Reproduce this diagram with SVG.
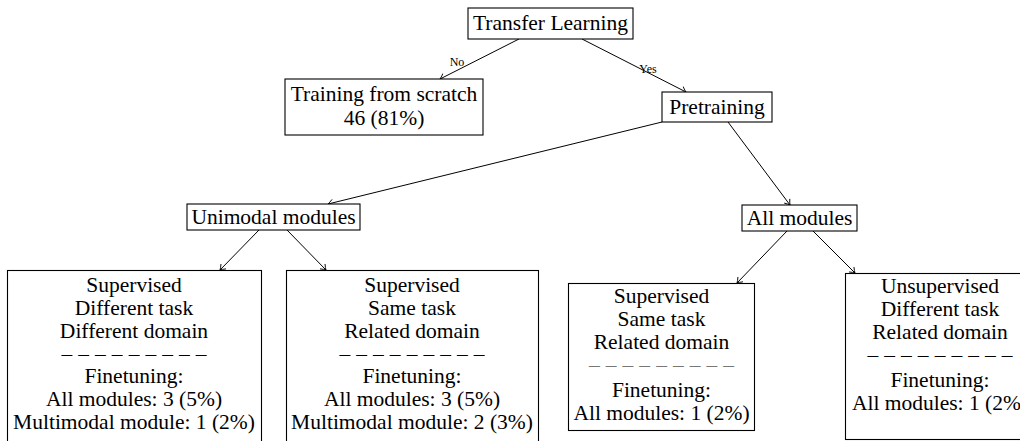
<svg xmlns="http://www.w3.org/2000/svg" width="1020" height="441" viewBox="0 0 1020 441">
  <style>
    .box { fill: #fff; stroke: #000; stroke-width: 1.1; }
    .t { font-family: "Liberation Serif", "Times New Roman", serif; font-size: 21.5px; fill: #000; text-anchor: middle; }
    .lbl { font-family: "Liberation Serif", "Times New Roman", serif; font-size: 12px; fill: #000; text-anchor: middle; }
    .edge { stroke: #000; stroke-width: 1; fill: none; marker-end: url(#tip); }
    .rule { fill: #000; }
  </style>
  <defs>
    <marker id="tip" viewBox="-6 -5 7 10" refX="0" refY="0" markerWidth="7" markerHeight="10" markerUnits="userSpaceOnUse" orient="auto">
      <path d="M -5 -3.5 Q -2 -1 0 0 Q -2 1 -5 3.5" fill="none" stroke="#000" stroke-width="0.9"/>
    </marker>
  </defs>
  <rect width="1020" height="441" fill="#fff"/>

  <g id="connectors">
    <line class="edge" x1="519" y1="39" x2="440" y2="79"/>
    <line class="edge" x1="582" y1="39" x2="686" y2="92"/>
    <line class="edge" x1="662" y1="122" x2="328" y2="204"/>
    <line class="edge" x1="728" y1="122" x2="790" y2="205"/>
    <line class="edge" x1="259" y1="230" x2="220" y2="270"/>
    <line class="edge" x1="287" y1="230" x2="326" y2="270"/>
    <line class="edge" x1="787" y1="231" x2="737" y2="283"/>
    <line class="edge" x1="813" y1="231" x2="855" y2="273"/>
    <text class="lbl" x="457" y="66">No</text>
    <text class="lbl" x="648" y="73">Yes</text>
  </g>

  <g id="transfer-learning">
    <rect class="box" x="468" y="8" width="165" height="31"/>
    <text class="t" x="550.5" y="30">Transfer Learning</text>
  </g>

  <g id="training-from-scratch">
    <rect class="box" x="285" y="79" width="198" height="56"/>
    <text class="t" x="384" y="101">Training from scratch</text>
    <text class="t" x="384" y="125">46 (81%)</text>
  </g>

  <g id="pretraining">
    <rect class="box" x="662" y="92" width="110" height="30"/>
    <text class="t" x="717" y="114">Pretraining</text>
  </g>

  <g id="unimodal-modules">
    <rect class="box" x="187" y="204" width="173" height="26"/>
    <text class="t" x="273.5" y="224">Unimodal modules</text>
  </g>

  <g id="all-modules">
    <rect class="box" x="742" y="205" width="115" height="26"/>
    <text class="t" x="799.5" y="225">All modules</text>
  </g>

  <g id="uni-supervised-different">
    <rect class="box" x="7.5" y="270.5" width="254" height="180"/>
    <text class="t" x="134" y="292">Supervised</text>
    <text class="t" x="134" y="315">Different task</text>
    <text class="t" x="134" y="338">Different domain</text>
    <text class="t" x="134" y="361" textLength="145" lengthAdjust="spacing">– – – – – – – – –</text>
    <text class="t" x="134" y="383">Finetuning:</text>
    <text class="t" x="134" y="406">All modules: 3 (5%)</text>
    <text class="t" x="134" y="429">Multimodal module: 1 (2%)</text>
  </g>

  <g id="uni-supervised-same">
    <rect class="box" x="286.5" y="270.5" width="252" height="180"/>
    <text class="t" x="412" y="292">Supervised</text>
    <text class="t" x="412" y="315">Same task</text>
    <text class="t" x="412" y="338">Related domain</text>
    <text class="t" x="412" y="361" textLength="145" lengthAdjust="spacing">– – – – – – – – –</text>
    <text class="t" x="412" y="383">Finetuning:</text>
    <text class="t" x="412" y="406">All modules: 3 (5%)</text>
    <text class="t" x="412" y="429">Multimodal module: 2 (3%)</text>
  </g>

  <g id="all-supervised-same">
    <rect class="box" x="568.5" y="283.5" width="186" height="147"/>
    <text class="t" x="661.5" y="303">Supervised</text>
    <text class="t" x="661.5" y="326">Same task</text>
    <text class="t" x="661.5" y="349">Related domain</text>
    <text class="t" x="661.5" y="372" textLength="145" lengthAdjust="spacing" style="fill:#777">– – – – – – – – –</text>
    <text class="t" x="661.5" y="397">Finetuning:</text>
    <text class="t" x="661.5" y="420">All modules: 1 (2%)</text>
  </g>

  <g id="all-unsupervised-related">
    <rect class="box" x="845.5" y="273.5" width="190" height="166"/>
    <text class="t" x="940" y="293">Unsupervised</text>
    <text class="t" x="940" y="316">Different task</text>
    <text class="t" x="940" y="339">Related domain</text>
    <text class="t" x="940" y="362" textLength="145" lengthAdjust="spacing">– – – – – – – – –</text>
    <text class="t" x="940" y="387">Finetuning:</text>
    <text class="t" x="940" y="410">All modules: 1 (2%)</text>
  </g>
</svg>
